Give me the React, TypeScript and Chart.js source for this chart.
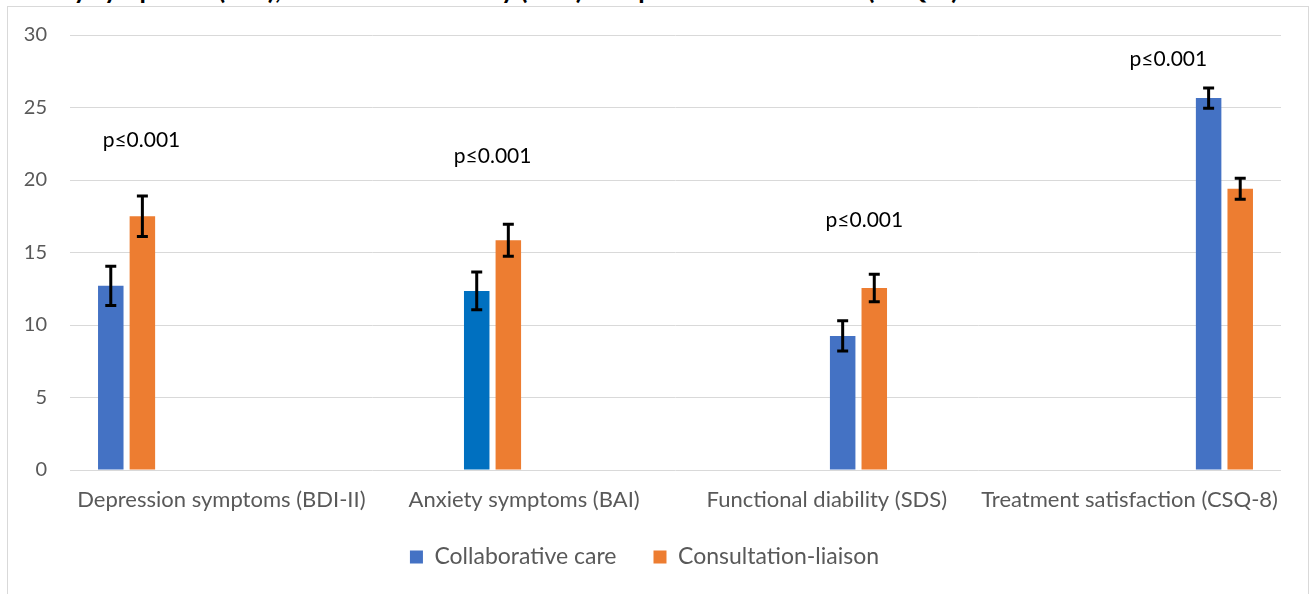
import React, { useEffect, useRef } from 'react';
import { Chart, registerables } from 'chart.js';

Chart.register(...registerables);

const categories = [
  'Depression symptoms (BDI-II)',
  'Anxiety symptoms (BAI)',
  'Functional diability (SDS)',
  'Treatment satisfaction (CSQ-8)',
];
const seriesNames = ['Collaborative care', 'Consultation-liaison'];
const collaborativeMeans = [12.7, 12.35, 9.25, 25.65];
const collaborativeErrors = [1.35, 1.3, 1.05, 0.7];
const consultationMeans = [17.5, 15.85, 12.55, 19.4];
const consultationErrors = [1.4, 1.1, 0.95, 0.72];
const collaborativeColors = ['#4472C4', '#0070C0', '#4472C4', '#4472C4'];
const consultationColors = ['#ED7D31', '#ED7D31', '#ED7D31', '#ED7D31'];
const pValueLabels = ['p≤0.001', 'p≤0.001', 'p≤0.001', 'p≤0.001'];
const pValueLevels = [22.75, 21.65, 17.2, 28.35];
const pValueCategoryPos = [-0.264, 0.896, 2.124, 3.128];
const yMin = 0;
const yMax = 30;
const yStep = 5;
const titleText =
  'anxiety symptoms (BAI), functional disability (SDS) and patient satisfaction (CSQ-8)';

const FONT = 'Lato, "Open Sans", sans-serif';

const errorBarPlugin = {
  id: 'errorBars',
  afterDatasetsDraw(chart: any) {
    const ctx = chart.ctx;
    const yScale = chart.scales.y;
    chart.data.datasets.forEach((ds: any, di: number) => {
      const meta = chart.getDatasetMeta(di);
      meta.data.forEach((el: any, idx: number) => {
        const v = ds.data[idx];
        const e = ds.errors ? ds.errors[idx] : null;
        if (v == null || e == null) return;
        const x = el.x;
        const top = yScale.getPixelForValue(v + e);
        const bot = yScale.getPixelForValue(v - e);
        const cap = 5.5;
        ctx.save();
        ctx.strokeStyle = '#000000';
        ctx.lineWidth = 3;
        ctx.beginPath();
        ctx.moveTo(x, top);
        ctx.lineTo(x, bot);
        ctx.moveTo(x - cap, top);
        ctx.lineTo(x + cap, top);
        ctx.moveTo(x - cap, bot);
        ctx.lineTo(x + cap, bot);
        ctx.stroke();
        ctx.restore();
      });
    });
  },
};

const pValuePlugin = {
  id: 'pValues',
  afterDatasetsDraw(chart: any) {
    const ctx = chart.ctx;
    const xScale = chart.scales.x;
    const yScale = chart.scales.y;
    ctx.save();
    ctx.fillStyle = '#000000';
    ctx.font = `21px ${FONT}`;
    ctx.textAlign = 'center';
    ctx.textBaseline = 'middle';
    pValueLabels.forEach((t, i) => {
      const x = xScale.getPixelForValue(pValueCategoryPos[i]);
      const y = yScale.getPixelForValue(pValueLevels[i]);
      ctx.fillText(t, x, y);
    });
    ctx.restore();
  },
};

// let the x-axis labels' descenders draw below the (short) axis box
const labelRoomPlugin = {
  id: 'labelRoom',
  afterLayout(chart: any) {
    if (chart.scales.x) chart.scales.x.bottom += 20;
  },
};

export default function App() {
  const canvasRef = useRef<HTMLCanvasElement | null>(null);

  useEffect(() => {
    if (!canvasRef.current) return;
    const datasets: any[] = [];
    categories.forEach((_, i) => {
      datasets.push({
        label: seriesNames[0],
        data: categories.map((__, j) => (j === i ? collaborativeMeans[i] : null)),
        errors: categories.map((__, j) => (j === i ? collaborativeErrors[i] : null)),
        backgroundColor: collaborativeColors[i],
        borderWidth: 0,
      });
      datasets.push({
        label: seriesNames[1],
        data: categories.map((__, j) => (j === i ? consultationMeans[i] : null)),
        errors: categories.map((__, j) => (j === i ? consultationErrors[i] : null)),
        backgroundColor: consultationColors[i],
        borderWidth: 0,
      });
    });

    const chart = new Chart(canvasRef.current, {
      type: 'bar',
      data: { labels: categories, datasets },
      options: {
        animation: false,
        responsive: false,
        maintainAspectRatio: false,
        devicePixelRatio: 1,
        layout: { padding: { left: 8, right: 32, top: 35, bottom: 15.5 } },
        datasets: {
          bar: { categoryPercentage: 0.835, barPercentage: 0.807 },
        },
        plugins: {
          title: { display: false },
          tooltip: { enabled: false },
          legend: {
            display: true,
            position: 'bottom',
            labels: {
              filter: (item: any) => item.datasetIndex < 2,
              boxWidth: 13,
              boxHeight: 13,
              padding: 37,
              color: '#595959',
              font: { family: FONT, size: 23 },
            },
          },
        },
        scales: {
          x: {
            grid: { display: false, drawTicks: false },
            border: { display: false },
            ticks: {
              color: '#595959',
              font: { family: FONT, size: 22 },
              padding: 17,
              maxRotation: 0,
              autoSkip: false,
            },
            afterFit: (s: any) => {
              s.height = 38.5;
            },
          },
          y: {
            min: yMin,
            max: yMax,
            grid: { color: '#D9D9D9', lineWidth: 1, drawTicks: false },
            border: { display: false },
            ticks: {
              stepSize: yStep,
              color: '#595959',
              font: { family: FONT, size: 20 },
              padding: 23,
            },
            afterFit: (s: any) => {
              s.width = 62;
            },
          },
        },
      },
      plugins: [errorBarPlugin, pValuePlugin, labelRoomPlugin],
    } as any);

    return () => {
      chart.destroy();
    };
  }, []);

  return (
    <div
      style={{
        position: 'absolute',
        left: 0,
        top: 0,
        width: 1313,
        height: 594,
        overflow: 'hidden',
        background: '#ffffff',
      }}
    >
      <div
        style={{
          position: 'absolute',
          left: 2,
          top: -21.5,
          whiteSpace: 'nowrap',
          fontFamily: FONT,
          fontWeight: 700,
          fontSize: 26,
          lineHeight: '20px',
          color: '#000',
        }}
      >
        {titleText}
      </div>
      <div
        style={{
          position: 'absolute',
          left: 7,
          top: 6,
          width: 1302,
          height: 620,
          border: '1px solid #D9D9D9',
          boxSizing: 'border-box',
        }}
      />
      <canvas
        ref={canvasRef}
        width={1313}
        height={594}
        style={{ position: 'absolute', left: 0, top: 0, width: 1313, height: 594 }}
      />
    </div>
  );
}
